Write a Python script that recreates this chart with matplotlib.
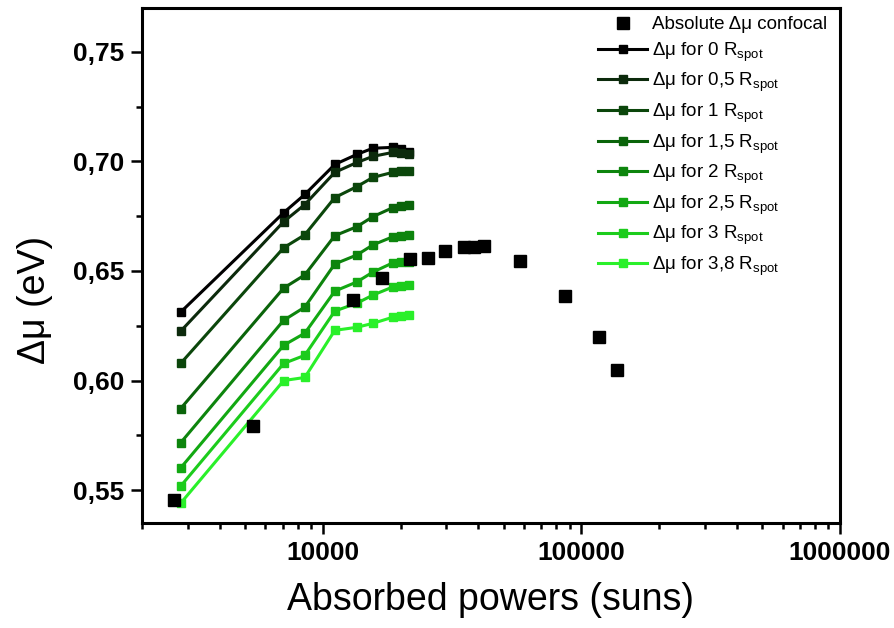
import numpy as np
import matplotlib
matplotlib.use("Agg")
import matplotlib.pyplot as plt
from matplotlib.ticker import FuncFormatter, FixedLocator, LogLocator, NullFormatter

plt.rcParams['font.family'] = ['Liberation Sans', 'DejaVu Sans']
plt.rcParams['mathtext.fontset'] = 'custom'
plt.rcParams['mathtext.rm'] = 'Liberation Sans'

# Absolute delta mu (confocal)
abs_x = [2670, 5360, 13070, 16940, 21730, 25530, 29730, 35240, 38500, 42070,
         58070, 86750, 117500, 137900]
abs_y = [0.5454, 0.5794, 0.6367, 0.6468, 0.6555, 0.6560, 0.6592, 0.6610, 0.6610,
         0.6615, 0.6546, 0.6385, 0.6197, 0.6046]

# Simulated delta mu at different distances from the spot
sim_x = [2820, 7060, 8520, 11130, 13550, 15630, 18660, 20060, 21540]
r_labels = ["0", "0,5", "1", "1,5", "2", "2,5", "3", "3,8"]
dmu_r0 = [0.6312, 0.6766, 0.6849, 0.6986, 0.7032, 0.7060, 0.7064, 0.7055, 0.7041]
dmu_r05 = [0.6225, 0.6725, 0.6803, 0.6950, 0.6995, 0.7023, 0.7041, 0.7037, 0.7032]
dmu_r1 = [0.6078, 0.6606, 0.6665, 0.6835, 0.6885, 0.6927, 0.6950, 0.6954, 0.6954]
dmu_r15 = [0.5872, 0.6422, 0.6482, 0.6661, 0.6702, 0.6748, 0.6789, 0.6798, 0.6803]
dmu_r2 = [0.5716, 0.6275, 0.6335, 0.6532, 0.6573, 0.6619, 0.6656, 0.6661, 0.6665]
dmu_r25 = [0.5601, 0.6161, 0.6216, 0.6408, 0.6450, 0.6495, 0.6537, 0.6541, 0.6541]
dmu_r3 = [0.5518, 0.6078, 0.6115, 0.6317, 0.6353, 0.6390, 0.6427, 0.6431, 0.6436]
dmu_r38 = [0.5440, 0.6000, 0.6014, 0.6229, 0.6243, 0.6261, 0.6289, 0.6294, 0.6298]
sim_series = [dmu_r0, dmu_r05, dmu_r1, dmu_r15, dmu_r2, dmu_r25, dmu_r3, dmu_r38]

colors = ['#000000', '#0c2a0c', '#0b460b', '#0a640a', '#0d850d', '#12a812',
          '#1ccc1c', '#2af02a']

fig = plt.figure(figsize=(8.95, 6.28), dpi=100)
ax = fig.add_axes([0.1587, 0.1672, 0.7798, 0.8201])

ax.plot(abs_x, abs_y, 's', color='black', markersize=8, linestyle='none',
        label='Absolute \u0394\u03bc confocal', zorder=3)

for r, ys, c in zip(r_labels, sim_series, colors):
    ax.plot(sim_x, ys, '-s', color=c, lw=2.2, markersize=6,
            label='\u0394\u03bc for ' + r + r' R$_\mathregular{spot}$')

ax.set_xscale('log')
ax.set_xlim(2000, 1e6)
ax.set_ylim(0.535, 0.770)

ax.xaxis.set_major_locator(FixedLocator([1e4, 1e5, 1e6]))
ax.xaxis.set_minor_locator(LogLocator(base=10, subs=np.arange(2, 10)))
ax.xaxis.set_minor_formatter(NullFormatter())
ax.xaxis.set_major_formatter(FuncFormatter(lambda v, p: f"{int(round(v))}"))

ax.yaxis.set_major_locator(FixedLocator([0.55, 0.60, 0.65, 0.70, 0.75]))
ax.yaxis.set_minor_locator(FixedLocator([0.575, 0.625, 0.675, 0.725]))
ax.yaxis.set_major_formatter(FuncFormatter(lambda v, p: f"{v:.2f}".replace('.', ',')))

for s in ax.spines.values():
    s.set_linewidth(2.2)
ax.tick_params(which='major', direction='out', length=8, width=1.8,
               labelsize=19, pad=5)
ax.tick_params(which='minor', direction='out', length=4.5, width=1.8)
for lab in ax.get_xticklabels() + ax.get_yticklabels():
    lab.set_fontweight('bold')

ax.set_xlabel('Absorbed powers (suns)', fontsize=27, labelpad=12)
ax.set_ylabel('\u0394\u03bc (eV)', fontsize=27)
ax.yaxis.set_label_coords(-0.128, 0.433)

ax.legend(loc='upper right', bbox_to_anchor=(1.0, 1.01), frameon=False,
          fontsize=13.5, handlelength=2.6, handletextpad=0.25,
          labelspacing=0.38, borderaxespad=0.3)

fig.savefig('out.png', dpi=100)
